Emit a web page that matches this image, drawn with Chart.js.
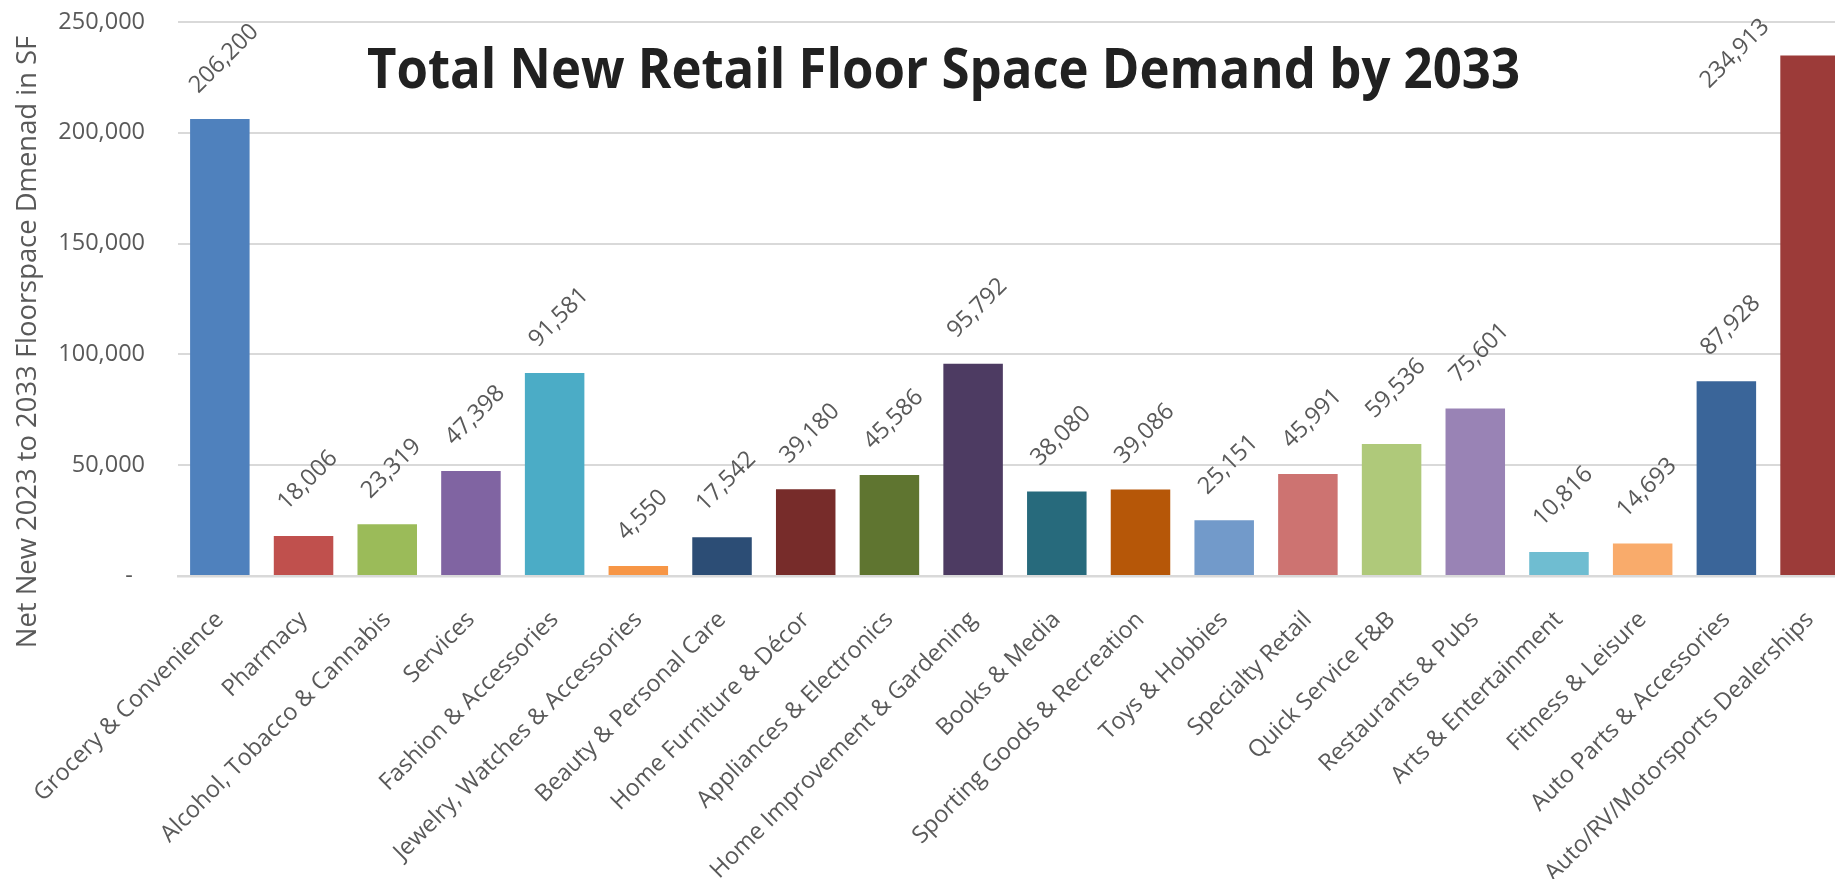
<!DOCTYPE html>
<html>
<head>
<meta charset="utf-8">
<title>Total New Retail Floor Space Demand by 2033</title>
<script src="https://cdn.jsdelivr.net/npm/chart.js@4"></script>
<style>
  html, body { margin: 0; padding: 0; background: #ffffff; overflow: hidden; }
  #wrap { position: relative; width: 1860px; height: 879px; }
</style>
</head>
<body>
<div id="wrap"><canvas id="chart"></canvas></div>
<script>
// ---- data ----
const chartTitle = 'Total New Retail Floor Space Demand by 2033';
const yAxisTitle = 'Net New 2023 to 2033 Floorspace Dmenad in SF';

const categories = [
  'Grocery & Convenience', 'Pharmacy', 'Alcohol, Tobacco & Cannabis', 'Services',
  'Fashion & Accessories', 'Jewelry, Watches & Accessories', 'Beauty & Personal Care',
  'Home Furniture & Décor', 'Appliances & Electronics', 'Home Improvement & Gardening',
  'Books & Media', 'Sporting Goods & Recreation', 'Toys & Hobbies', 'Specialty Retail',
  'Quick Service F&B', 'Restaurants & Pubs', 'Arts & Entertainment', 'Fitness & Leisure',
  'Auto Parts & Accessories', 'Auto/RV/Motorsports Dealerships'
];

const demandSF = [
  206200, 18006, 23319, 47398, 91581, 4550, 17542, 39180, 45586, 95792,
  38080, 39086, 25151, 45991, 59536, 75601, 10816, 14693, 87928, 234913
];

const barColors = [
  '#4F81BD', '#C0504D', '#9BBB59', '#8064A2', '#4BACC6', '#F79646',
  '#2C4D75', '#772C2A', '#5F7530', '#4D3B62', '#276A7C', '#B65708',
  '#729ACA', '#CD7371', '#AFC97A', '#9983B5', '#6FBDD1', '#F9AB6B',
  '#3A6599', '#9C3B39'
];

const yTickValues = [0, 50000, 100000, 150000, 200000, 250000];
const yTickLabels = ['-  ', '50,000', '100,000', '150,000', '200,000', '250,000'];

// ---- styling ----
const FONT = "'Open Sans', 'Segoe UI', sans-serif";
const TEXT_GREY = '#595959';
const GRID_GREY = '#D9D9D9';
const LABEL_SIZE = 23.5;
const TITLE_SIZE = 55;
const TITLE_WIDTH = 1153;
const TITLE_CX = 943.5;
const TITLE_BASELINE = 88;
const YTITLE_SIZE = 27.4;
const YTITLE_CX = 26;
const YTITLE_CY = 342;
const CHART_TOP = 22;
const CHART_BOTTOM = 576;
const CANVAS_H = 879;

const fmt = v => v.toLocaleString('en-US');

// Chart heading, drawn across the upper plot area
const headingPlugin = {
  id: 'heading',
  afterDraw(chart) {
    const ctx = chart.ctx;
    ctx.save();
    ctx.font = `bold ${TITLE_SIZE}px ${FONT}`;
    ctx.fillStyle = '#212121';
    ctx.textAlign = 'center';
    ctx.textBaseline = 'alphabetic';
    const w = ctx.measureText(chartTitle).width;
    ctx.translate(TITLE_CX, TITLE_BASELINE);
    ctx.scale(Math.min(1, TITLE_WIDTH / w), 1);
    ctx.fillText(chartTitle, 0, 0);
    ctx.restore();
  }
};

// Vertical axis caption
const yCaptionPlugin = {
  id: 'yCaption',
  afterDraw(chart) {
    const ctx = chart.ctx;
    ctx.save();
    ctx.font = `${YTITLE_SIZE}px ${FONT}`;
    ctx.fillStyle = TEXT_GREY;
    ctx.textAlign = 'center';
    ctx.textBaseline = 'alphabetic';
    ctx.translate(YTITLE_CX + YTITLE_SIZE * 0.714 / 2, YTITLE_CY);
    ctx.rotate(-Math.PI / 2);
    ctx.fillText(yAxisTitle, 0, 0);
    ctx.restore();
  }
};

// Rotated value labels above each bar
const valueLabelPlugin = {
  id: 'valueLabels',
  afterDatasetsDraw(chart) {
    const ctx = chart.ctx;
    const meta = chart.getDatasetMeta(0);
    const capH = LABEL_SIZE * 0.714;
    ctx.save();
    ctx.font = `${LABEL_SIZE}px ${FONT}`;
    ctx.fillStyle = TEXT_GREY;
    ctx.textAlign = 'center';
    ctx.textBaseline = 'alphabetic';
    meta.data.forEach((bar, i) => {
      const text = fmt(demandSF[i]);
      const w = ctx.measureText(text).width;
      const half = (w + capH) * Math.SQRT1_2 / 2;
      let cx = bar.x + 3;
      let cy = bar.y - 25 - half;
      if (cy - half < 8) {
        // not enough room above: sit beside the bar instead
        cx = bar.x - bar.width / 2 - 10 - half;
        cy = bar.y - 3;
      }
      ctx.save();
      ctx.translate(cx, cy);
      ctx.rotate(-Math.PI / 4);
      ctx.fillText(text, 0, capH / 2);
      ctx.restore();
    });
    ctx.restore();
  }
};

new Chart(document.getElementById('chart'), {
  type: 'bar',
  data: {
    labels: categories,
    datasets: [{
      data: demandSF,
      backgroundColor: barColors,
      borderWidth: 0,
      barPercentage: 0.711,
      categoryPercentage: 1.0
    }]
  },
  options: {
    responsive: true,
    maintainAspectRatio: false,
    animation: false,
    layout: { padding: { top: CHART_TOP, right: 0, bottom: 0, left: 0 } },
    plugins: {
      legend: { display: false },
      tooltip: { enabled: false },
      title: { display: false }
    },
    scales: {
      x: {
        grid: { display: false, drawTicks: false },
        border: { display: true, color: GRID_GREY, width: 2.5 },
        ticks: {
          autoSkip: false,
          maxRotation: 45,
          minRotation: 45,
          padding: 30,
          color: TEXT_GREY,
          font: { family: FONT, size: LABEL_SIZE }
        },
        afterFit(scale) { scale.height = CANVAS_H - CHART_BOTTOM; }
      },
      y: {
        min: 0,
        max: 250000,
        afterBuildTicks(scale) { scale.ticks = yTickValues.map(v => ({ value: v })); },
        grid: { color: GRID_GREY, lineWidth: 2, drawTicks: false },
        border: { display: false },
        ticks: {
          padding: 33,
          color: TEXT_GREY,
          font: { family: FONT, size: LABEL_SIZE },
          callback: v => yTickLabels[yTickValues.indexOf(v)]
        },
        afterFit(scale) {
          scale.width = 178;
          scale.paddingTop = 0;
          scale.paddingBottom = 0;
        }
      }
    }
  },
  plugins: [valueLabelPlugin, headingPlugin, yCaptionPlugin]
});
</script>
</body>
</html>
